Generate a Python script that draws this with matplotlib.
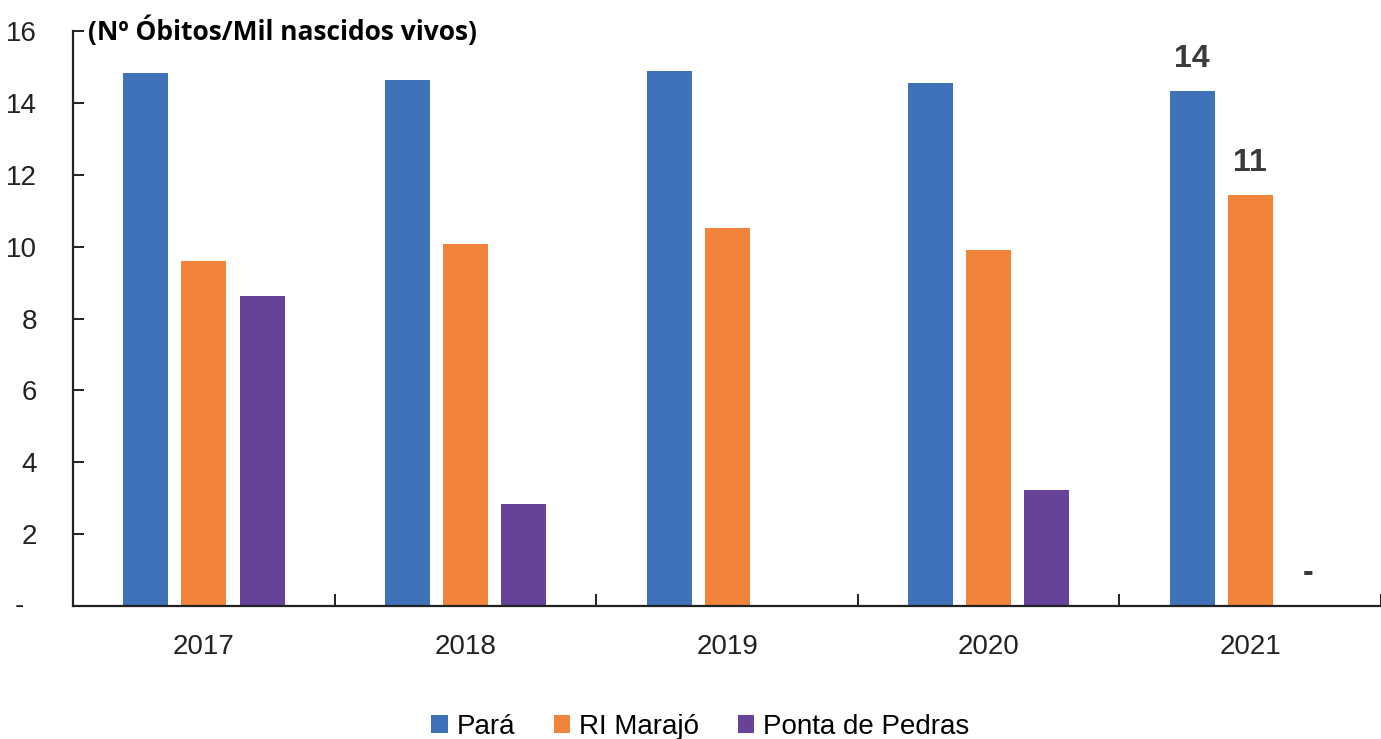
import numpy as np
from matplotlib import pyplot as plt
from matplotlib import font_manager

anos = ['2017', '2018', '2019', '2020', '2021']
para = [14.83, 14.64, 14.89, 14.55, 14.33]
marajo = [9.60, 10.07, 10.52, 9.91, 11.44]
ponta = [8.63, 2.84, 0.0, 3.23, 0.0]
series_nomes = ['Pará', 'RI Marajó', 'Ponta de Pedras']
cores = ['#3F72B9', '#F1833B', '#664299']

yticks = [0, 2, 4, 6, 8, 10, 12, 14, 16]
ytick_labels = ['', '2', '4', '6', '8', '10', '12', '14', '16']

nomes = {f.name for f in font_manager.fontManager.ttflist}
fonte = 'Liberation Sans Narrow' if 'Liberation Sans Narrow' in nomes else 'Liberation Sans'
plt.rcParams['font.family'] = [fonte, 'DejaVu Sans']

fig = plt.figure(figsize=(13.81, 7.39), dpi=100)
ax = fig.add_axes([0.053, 0.18, 0.947, 0.778])  # [left, bottom, width, height]

x = np.arange(len(anos))
w = 0.172
passo = 0.222
dados = [para, marajo, ponta]
for i, (vals, nome, cor) in enumerate(zip(dados, series_nomes, cores)):
    ax.bar(x + (i - 1) * passo, vals, w, color=cor, label=nome)

# rotulos so no ultimo ano
ult = len(anos) - 1
for i, vals in enumerate(dados):
    v = vals[ult]
    txt = '%d' % round(v) if v > 0 else '-'
    ax.annotate(txt, (x[ult] + (i - 1) * passo, v), xytext=(0, 12 if v > 0 else 13),
                textcoords='offset points', ha='center', va='bottom',
                fontsize=23, fontweight='bold', color='#3a3a3a')

# o zero do eixo y aparece como "-"
ax.annotate('-', (0, 0), xycoords=('axes fraction', 'data'), xytext=(-39, 0),
            textcoords='offset points', ha='center', va='center',
            fontsize=20, color='#222222', annotation_clip=False)

ax.set_xlim(-0.5, len(anos) - 0.5)
ax.set_ylim(0, 16)
ax.set_yticks(yticks)
ax.set_yticklabels(ytick_labels)
ax.set_xticks(x)
ax.set_xticklabels(anos)
ax.set_xticks(np.arange(len(anos) + 1) - 0.5, minor=True)

for s in ['top', 'right']:
    ax.spines[s].set_visible(False)
for s in ['left', 'bottom']:
    ax.spines[s].set_linewidth(1.6)
    ax.spines[s].set_color('#222222')

ax.tick_params(axis='y', direction='in', length=8, width=1.4, pad=26,
               labelsize=20, labelcolor='#222222', color='#222222')
ax.tick_params(axis='x', which='major', length=0, pad=20, labelsize=20, labelcolor='#222222')
ax.tick_params(axis='x', which='minor', direction='in', length=9, width=1.4, color='#222222')

fig.text(0.064, 0.958, '(Nº Óbitos/Mil nascidos vivos)', family=['Open Sans', 'DejaVu Sans'],
         fontweight='bold', fontsize=19, va='center', ha='left', color='black')

fig.legend(loc='lower center', bbox_to_anchor=(0.507, -0.035), ncol=3, frameon=False,
           fontsize=20, handlelength=0.6, handleheight=0.6, handletextpad=0.3,
           columnspacing=1.4)

plt.savefig('out.png')
